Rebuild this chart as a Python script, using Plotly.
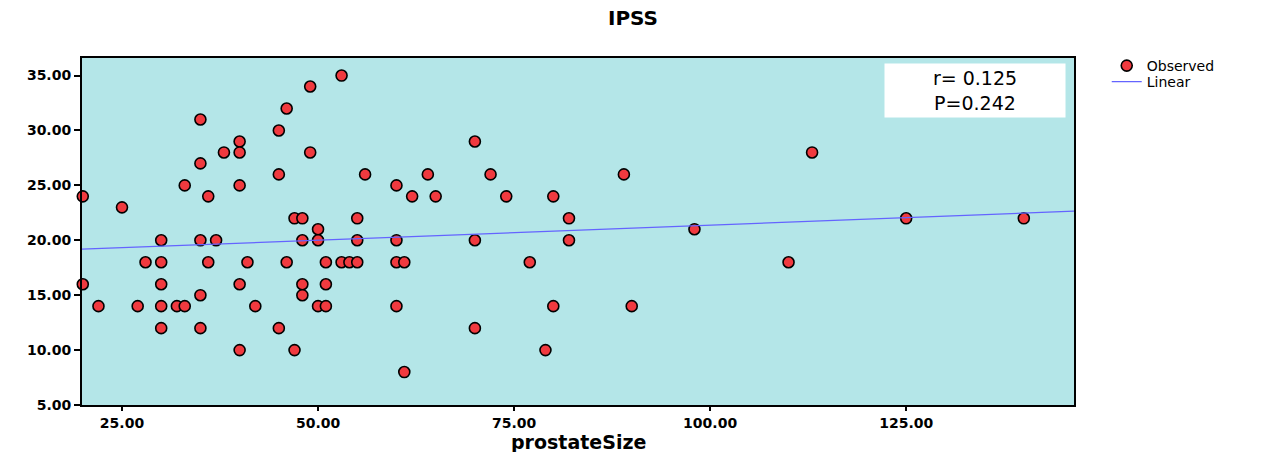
import numpy as np
import plotly.graph_objects as go

# Observed data (prostateSize, IPSS)
prostate_size = [53, 49, 46, 35, 45, 40, 70, 38, 40, 49, 113, 35,
                 45, 56, 64, 72, 89, 33, 40, 60, 20, 36, 62, 65, 74, 80,
                 25, 47, 48, 55, 82, 125, 140, 50, 98,
                 30, 35, 37, 48, 50, 55, 60, 70, 82,
                 28, 30, 36, 41, 46, 51, 53, 54, 55, 60, 61, 77, 110,
                 20, 30, 40, 48, 51, 35, 48,
                 22, 27, 30, 32, 33, 42, 50, 51, 60, 80, 90,
                 30, 35, 45, 70, 40, 47, 79, 61]
ipss = [35, 34, 32, 31, 30, 29, 29, 28, 28, 28, 28, 27,
        26, 26, 26, 26, 26, 25, 25, 25, 24, 24, 24, 24, 24, 24,
        23, 22, 22, 22, 22, 22, 22, 21, 21,
        20, 20, 20, 20, 20, 20, 20, 20, 20,
        18, 18, 18, 18, 18, 18, 18, 18, 18, 18, 18, 18, 18,
        16, 16, 16, 16, 16, 15, 15,
        14, 14, 14, 14, 14, 14, 14, 14, 14, 14, 14,
        12, 12, 12, 12, 10, 10, 10, 8]

x_ticks = [25, 50, 75, 100, 125]
y_ticks = [5, 10, 15, 20, 25, 30, 35]
x_range = [19.9, 146.4]
y_range = [5, 36.6]

stats_text = "r= 0.125<br>P=0.242"
x_title = "prostateSize"

x_arr = np.array(prostate_size, dtype=float)
y_arr = np.array(ipss, dtype=float)
slope, intercept = np.polyfit(x_arr, y_arr, 1)
line_x = np.array(x_range)
line_y = intercept + slope * line_x

FONT = "DejaVu Sans, Arial, sans-serif"

fig = go.Figure()
fig.add_trace(go.Scatter(
    x=prostate_size, y=ipss, mode="markers", name="Observed",
    marker=dict(symbol="circle", size=11, color="#f03a3f",
                line=dict(color="black", width=1.6)),
    cliponaxis=False, legend="legend",
))
fig.add_trace(go.Scatter(
    x=line_x, y=line_y, mode="lines", name="Linear",
    line=dict(color="#6464ff", width=1.2), legend="legend2",
))

fig.add_annotation(
    x=0.9, y=0.985, xref="paper", yref="paper", xanchor="center", yanchor="top",
    text=stats_text, showarrow=False, align="center",
    font=dict(family=FONT, size=19, color="black"),
    bgcolor="white", borderpad=0, width=180, height=53,
)
fig.add_annotation(
    x=0.5, y=-(442 - 405) / 347, xref="paper", yref="paper", xanchor="center", yanchor="middle",
    text=f"<b>{x_title}</b>", showarrow=False,
    font=dict(family=FONT, size=19, color="black"),
)

legend_common = dict(xanchor="left", yanchor="middle",
                     font=dict(family=FONT, size=14, color="black"),
                     bgcolor="rgba(0,0,0,0)", itemwidth=30)

fig.update_layout(
    width=1266, height=452,
    margin=dict(l=82, r=192, t=58, b=47),
    paper_bgcolor="white", plot_bgcolor="#b4e6e8",
    font=dict(family=FONT, color="black"),
    title=dict(text="<b>IPSS</b>", x=0.5, xanchor="center", y=0.96, yanchor="middle",
               font=dict(family=FONT, size=20, color="black")),
    legend=dict(x=1.033, y=1.0 - (66 - 58) / 347, **legend_common),
    legend2=dict(x=1.033, y=1.0 - (82 - 58) / 347, **legend_common),
    showlegend=True,
)
fig.update_xaxes(
    range=x_range, tickvals=x_ticks, ticktext=[f"<b>{v:.2f}</b>" for v in x_ticks],
    showgrid=False, zeroline=False, showline=True, linecolor="black", linewidth=2,
    mirror=True, ticks="outside", ticklen=4, tickwidth=2, tickcolor="black",
    tickfont=dict(family=FONT, size=14, color="black"), automargin=False,
)
fig.update_yaxes(
    range=y_range, tickvals=y_ticks, ticktext=[f"<b>{v:.2f}</b>" for v in y_ticks],
    showgrid=False, zeroline=False, showline=True, linecolor="black", linewidth=2,
    mirror=True, ticks="outside", ticklen=6, tickwidth=2, tickcolor="black",
    tickfont=dict(family=FONT, size=14, color="black"), automargin=False,
)

fig.write_html("out.html")
